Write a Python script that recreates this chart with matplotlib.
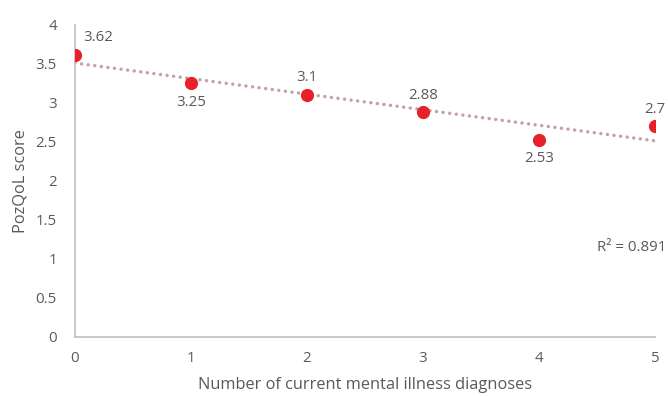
import numpy as np
import matplotlib
matplotlib.use("Agg")
import matplotlib.pyplot as plt

plt.rcParams['font.family'] = ['Open Sans', 'DejaVu Sans']

diagnoses = [0, 1, 2, 3, 4, 5]
pozqol = [3.62, 3.25, 3.1, 2.88, 2.53, 2.7]
label_pos = ['above', 'below', 'above', 'above', 'below', 'above']
r2_text = "R\u00b2 = 0.891"

TEXT = '#595959'
AXIS = '#bfbfbf'

fig = plt.figure(figsize=(6.68, 3.96), dpi=100)
ax = fig.add_axes([0.1123, 0.149, 0.868, 0.788])

# linear trend line
a, b = np.polyfit(diagnoses, pozqol, 1)
xs = np.array([diagnoses[0], diagnoses[-1]])
ax.plot(xs, a * xs + b, linestyle=(0, (0.01, 1.9)), color='#c4a0a8', linewidth=2.5,
        dash_capstyle='round', zorder=2)

ax.plot(diagnoses, pozqol, 'o', color='#e8202a', markersize=8.5, zorder=3)

for x, y, pos in zip(diagnoses, pozqol, label_pos):
    if pos == 'above':
        dx, dy, va = (6, 7, 'bottom') if x == 0 else (0, 7, 'bottom')
        ha = 'left' if x == 0 else 'center'
    else:
        dx, dy, va, ha = 0, -8, 'top', 'center'
    ax.annotate(f"{y:g}", (x, y), xytext=(dx, dy), textcoords='offset points',
                ha=ha, va=va, fontsize=10.8, color=TEXT)

ax.text(5.1, 1.15, r2_text, ha='right', va='center', fontsize=10.8, color=TEXT,
        clip_on=False)

ax.set_xlim(0, 5)
ax.set_ylim(0, 4)
ax.set_xticks(range(6))
ax.set_yticks(np.arange(0, 4.01, 0.5))
ax.set_yticklabels([f"{v:g}" for v in np.arange(0, 4.01, 0.5)])
ax.tick_params(length=0, labelsize=10.8, labelcolor=TEXT)
ax.tick_params(axis='y', pad=13)
ax.tick_params(axis='x', pad=10)

for s in ['top', 'right']:
    ax.spines[s].set_visible(False)
for s in ['left', 'bottom']:
    ax.spines[s].set_color(AXIS)
    ax.spines[s].set_linewidth(1.2)

ax.set_xlabel("Number of current mental illness diagnoses", fontsize=11.8, color=TEXT, labelpad=8)
ax.set_ylabel("PozQoL score", fontsize=11.8, color=TEXT, labelpad=5)

fig.savefig("out.png", dpi=100)
